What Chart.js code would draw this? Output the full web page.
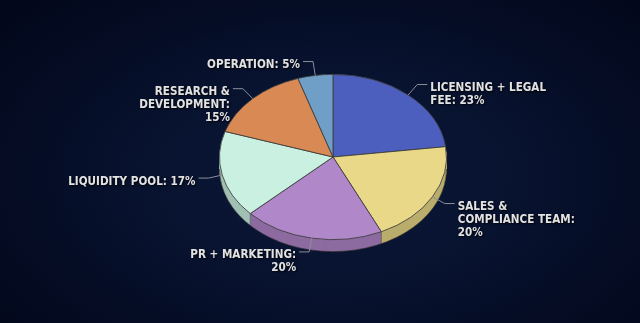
<!DOCTYPE html>
<html>
<head>
<meta charset="utf-8">
<script src="https://cdn.jsdelivr.net/npm/chart.js@4.4.0/dist/chart.umd.min.js"></script>
<style>
	html, body {
		margin: 0;
		padding: 0;
	}
	body {
		width: 640px;
		height: 323px;
		overflow: hidden;
		background: radial-gradient( ellipse 70% 80% at 52% 55%, #0b1836 0%, #081330 40%, #040b22 75%, #02071a 100% );
	}
	#pie-wrap {
		position: relative;
		width: 640px;
		height: 323px;
	}
</style>
</head>
<body>
<div id="pie-wrap">
	<canvas id="token-pie" width="640" height="323"></canvas>
</div>
<script>
	// data
	var categories = [ 'LICENSING + LEGAL FEE', 'SALES & COMPLIANCE TEAM', 'PR + MARKETING', 'LIQUIDITY POOL', 'RESEARCH & DEVELOPMENT', 'OPERATION' ];
	var shares = [ 23, 20, 20, 17, 15, 5 ];
	var sliceColors = [ '#4c5fbf', '#e8d888', '#b087c9', '#c9f0e1', '#d98953', '#6f9fc6' ];
	var wrapWidths = [ 122, 120, 115, 170, 100, 150 ];

	( function() {

		var tilt = 0.728;   // vertical squash of the pie
		var depth = 12;     // height of the side
		var labelFont = "bold 11.6px 'DejaVu Sans Condensed', 'DejaVu Sans', sans-serif";

		/**
		 * Darken a hex colour.
		 */
		function shade( hex, f ) {
			var n = parseInt( hex.slice( 1 ), 16 );
			var r = Math.round( ( n >> 16 & 255 ) * f );
			var g = Math.round( ( n >> 8 & 255 ) * f );
			var b = Math.round( ( n & 255 ) * f );

			return 'rgb(' + r + ',' + g + ',' + b + ')';
		}

		/**
		 * Greedy word wrap.
		 */
		function wrapText( ctx, text, maxWidth ) {
			var words = text.split( ' ' );
			var lines = [];
			var line = '';

			words.forEach( function( w ) {
				var test = line ? line + ' ' + w : w;

				if ( line && ctx.measureText( test ).width > maxWidth ) {
					lines.push( line );
					line = w;
				} else
					line = test;
			} );

			lines.push( line );

			return lines;
		}

		/**
		 * Tilt the pie, draw its side and the labels.
		 */
		var pie3d = {
			id: 'pie3d',
			beforeDatasetsDraw: function( chart ) {
				var ctx = chart.ctx;
				var arcs = chart.getDatasetMeta( 0 ).data;
				var cx = arcs[0].x;
				var cy = arcs[0].y;
				var off = depth / tilt;

				ctx.save();
				ctx.translate( cx, cy );
				ctx.scale( 1, tilt );
				ctx.translate( -cx, -cy );

				// side of the pie
				for ( var d = off; d > 0; d -= 0.5 ) {
					arcs.forEach( function( arc, i ) {
						ctx.beginPath();
						ctx.moveTo( cx, cy + d );
						ctx.arc( cx, cy + d, arc.outerRadius, arc.startAngle, arc.endAngle );
						ctx.closePath();
						ctx.fillStyle = shade( sliceColors[i], 0.8 );
						ctx.fill();
					} );
				}

				// rim of the side
				ctx.beginPath();
				ctx.arc( cx, cy + off, arcs[0].outerRadius, 0, Math.PI );
				ctx.lineWidth = 1;
				ctx.strokeStyle = 'rgba(40,40,40,0.8)';
				ctx.stroke();

				arcs.forEach( function( arc ) {
					var a = arc.startAngle;

					if ( Math.sin( a ) > 0 ) {
						var px = cx + arc.outerRadius * Math.cos( a );
						var py = cy + arc.outerRadius * Math.sin( a );

						ctx.beginPath();
						ctx.moveTo( px, py );
						ctx.lineTo( px, py + off );
						ctx.strokeStyle = 'rgba(60,60,60,0.6)';
						ctx.stroke();
					}
				} );
			},
			afterDatasetsDraw: function( chart ) {
				var ctx = chart.ctx;
				var arcs = chart.getDatasetMeta( 0 ).data;

				ctx.restore();

				ctx.save();
				ctx.font = labelFont;
				ctx.textBaseline = 'middle';

				arcs.forEach( function( arc, i ) {
					var a = ( arc.startAngle + arc.endAngle ) / 2;
					var r = arc.outerRadius;
					var cos = Math.cos( a );
					var sin = Math.sin( a );
					var ex = arc.x + r * cos;
					var ey = arc.y + r * tilt * sin;
					var kx = arc.x + ( r + 14 ) * cos;
					var ky = arc.y + ( r * tilt + 14 ) * sin;
					var right = cos >= 0;
					var hx = kx + ( right ? 10 : -10 );

					// leader line
					ctx.beginPath();
					ctx.moveTo( ex, ey );
					ctx.lineTo( kx, ky );
					ctx.lineTo( hx, ky );
					ctx.lineWidth = 1;
					ctx.strokeStyle = '#8a8f99';
					ctx.stroke();

					// label text
					var text = categories[i] + ': ' + shares[i] + '%';
					var lines = wrapText( ctx, text, wrapWidths[i] );

					ctx.textAlign = right ? 'left' : 'right';
					ctx.fillStyle = '#e2e2e2';
					ctx.shadowColor = 'rgba(0,0,0,0.9)';
					ctx.shadowBlur = 2;
					ctx.shadowOffsetX = 1;
					ctx.shadowOffsetY = 1;

					lines.forEach( function( line, j ) {
						ctx.fillText( line, hx + ( right ? 3 : -3 ), ky + 3.5 + j * 13 );
					} );

					ctx.shadowColor = 'transparent';
				} );

				ctx.restore();
			}
		};

		new Chart( document.getElementById( 'token-pie' ).getContext( '2d' ), {
			type: 'pie',
			data: {
				labels: categories,
				datasets: [ {
					data: shares,
					backgroundColor: sliceColors,
					borderColor: '#3c3c3c',
					borderWidth: 1
				} ]
			},
			options: {
				responsive: false,
				devicePixelRatio: 1,
				animation: false,
				events: [],
				layout: {
					padding: { left: 219, right: 193, top: 43, bottom: 52 }
				},
				plugins: {
					legend: { display: false },
					tooltip: { enabled: false }
				}
			},
			plugins: [ pie3d ]
		} );

	} )();
</script>
</body>
</html>
